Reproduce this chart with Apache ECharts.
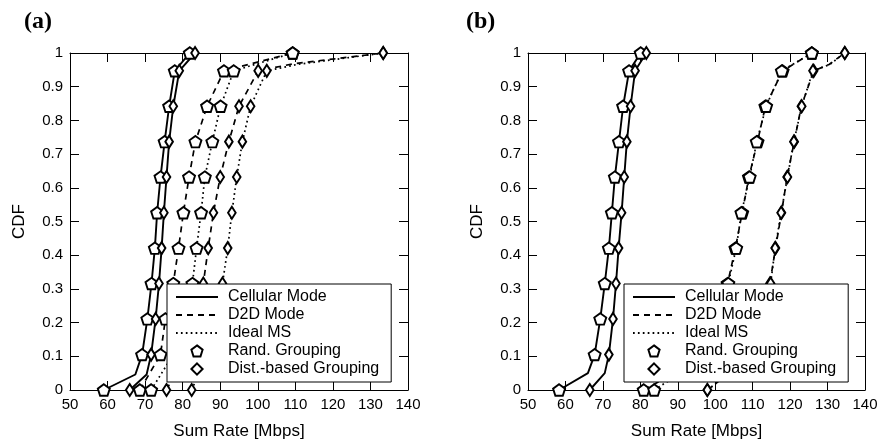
<!DOCTYPE html>
<html>
<head>
<meta charset="utf-8">
<script src="https://cdn.jsdelivr.net/npm/echarts@6/dist/echarts.min.js"></script>
<style>
  html, body { margin: 0; padding: 0; background: #fff; }
  #chart { width: 881px; height: 445px; }
</style>
</head>
<body>
<div id="chart"></div>
<script>
// CDF levels where markers are drawn
const levels = [0, 0.105, 0.211, 0.316, 0.421, 0.526, 0.632, 0.737, 0.842, 0.947, 1];
const xTicks = [50, 60, 70, 80, 90, 100, 110, 120, 130, 140];

// panel (a): sum rate at each CDF level
const aCellRand  = [59.0, 69.2, 70.6, 71.7, 72.6, 73.2, 74.1, 75.2, 76.4, 77.9, 81.9];
const aCellDist  = [65.9, 71.6, 72.8, 73.7, 74.4, 75.0, 75.7, 76.4, 77.5, 79.1, 83.3];
const aD2DRand   = [68.6, 74.1, 75.4, 77.5, 78.9, 80.2, 81.7, 83.4, 86.5, 91.0, 109.3];
const aIdealRand = [71.6, 77.5, 80.5, 82.6, 83.7, 84.9, 85.9, 87.9, 90.1, 93.6, 109.3];
const aD2DDist   = [75.7, 80.5, 83.5, 85.5, 86.8, 88.2, 90.0, 92.3, 95.0, 100.1, 133.4];
const aIdealDist = [82.4, 86.5, 89.0, 90.6, 92.0, 93.1, 94.4, 95.9, 98.1, 102.4, 133.4];

// panel (b)
const bCellRand  = [58.3, 67.8, 69.3, 70.5, 71.6, 72.4, 73.2, 74.3, 75.4, 77.0, 80.1];
const bCellDist  = [66.5, 71.6, 72.7, 73.5, 74.2, 75.0, 75.7, 76.4, 77.4, 78.6, 81.6];
const bD2DRand   = [80.9, 98.0, 101.5, 103.3, 105.4, 107.2, 109.0, 111.3, 113.4, 118.0, 125.8];
const bIdealRand = [83.7, 98.5, 101.8, 103.5, 105.6, 107.0, 109.2, 111.1, 113.6, 117.8, 125.8];
const bD2DDist   = [97.9, 110.0, 113.0, 114.6, 116.1, 117.7, 119.2, 121.1, 123.0, 126.3, 134.6];
const bIdealDist = [97.9, 110.3, 113.2, 114.8, 116.0, 117.6, 119.3, 121.0, 123.1, 126.1, 134.6];

// extra line vertices between markers (knees of the curves)
const aCellRandKnee  = [[67.4, 0.046]];
const aCellDistKnee  = [[70.4, 0.046]];
const aD2DDistKnee   = [[109.5, 0.968]];
const aIdealDistKnee = [[110.5, 0.966]];
const bCellRandKnee  = [[66.0, 0.05]];
const bCellDistKnee  = [[70.5, 0.05]];
const bD2DDistKnee   = [[130.4, 0.966]];
const bIdealDistKnee = [[130.6, 0.966]];

const PENT = 'path://M0,-10 L9.51,-3.09 L5.88,8.09 L-5.88,8.09 L-9.51,-3.09 Z';
const DIAM = 'path://M0,-11 L7,0 L0,11 L-7,0 Z';
const FONT = "'Liberation Sans', Arial, sans-serif";

const lineTypes = {
    solid: { type: 'solid', width: 1.9 },
    dashed: { type: [6, 5], width: 1.7 },
    dotted: { type: [1.7, 3.2], width: 1.7 }
};
const marks = {
    pent: { symbol: PENT, symbolSize: 12 },
    diam: { symbol: DIAM, symbolSize: 12 }
};

const curves = [
    { g: 0, x: aCellRand,  knee: aCellRandKnee,  line: 'solid',  mark: 'pent' },
    { g: 0, x: aCellDist,  knee: aCellDistKnee,  line: 'solid',  mark: 'diam' },
    { g: 0, x: aD2DRand,   knee: [],             line: 'dashed', mark: 'pent' },
    { g: 0, x: aIdealRand, knee: [],             line: 'dotted', mark: 'pent' },
    { g: 0, x: aD2DDist,   knee: aD2DDistKnee,   line: 'dashed', mark: 'diam' },
    { g: 0, x: aIdealDist, knee: aIdealDistKnee, line: 'dotted', mark: 'diam' },
    { g: 1, x: bCellRand,  knee: bCellRandKnee,  line: 'solid',  mark: 'pent' },
    { g: 1, x: bCellDist,  knee: bCellDistKnee,  line: 'solid',  mark: 'diam' },
    { g: 1, x: bD2DRand,   knee: [],             line: 'dashed', mark: 'pent' },
    { g: 1, x: bIdealRand, knee: [],             line: 'dotted', mark: 'pent' },
    { g: 1, x: bD2DDist,   knee: bD2DDistKnee,   line: 'dashed', mark: 'diam' },
    { g: 1, x: bIdealDist, knee: bIdealDistKnee, line: 'dotted', mark: 'diam' }
];

const markerStyle = { color: '#fff', borderColor: '#000', borderWidth: 1.9, opacity: 1 };

const series = [];
curves.forEach(function (c, i) {
    const pts = levels.map(function (l, k) { return [c.x[k], l]; });
    const linePts = pts.concat(c.knee).sort(function (p, q) { return p[1] - q[1]; });
    series.push({
        name: 'line' + i,
        type: 'line',
        xAxisIndex: c.g * 2,
        yAxisIndex: c.g * 2,
        data: linePts,
        symbol: 'none',
        silent: true,
        z: 2,
        lineStyle: Object.assign({ color: '#000' }, lineTypes[c.line])
    });
    series.push({
        name: 'mark' + i,
        type: 'scatter',
        xAxisIndex: c.g * 2,
        yAxisIndex: c.g * 2,
        data: pts,
        symbol: marks[c.mark].symbol,
        symbolSize: marks[c.mark].symbolSize,
        symbolKeepAspect: true,
        silent: true,
        z: 3,
        itemStyle: markerStyle
    });
});

// legend-only entries
const legendNames = ['Cellular Mode', 'D2D Mode', 'Ideal MS', 'Rand. Grouping', 'Dist.-based Grouping'];
const legendKinds = [['solid', null], ['dashed', null], ['dotted', null], [null, 'pent'], [null, 'diam']];
legendKinds.forEach(function (d, i) {
    series.push({
        name: legendNames[i],
        type: 'line',
        data: [],
        symbol: d[1] ? marks[d[1]].symbol : 'none',
        symbolKeepAspect: true,
        itemStyle: d[1] ? markerStyle : { color: '#000' },
        lineStyle: d[0] ? Object.assign({ color: '#000' }, lineTypes[d[0]]) : { width: 0, opacity: 0 }
    });
});

function xAx(grid, top) {
    return {
        type: 'value', gridIndex: grid, min: 50, max: 140, interval: 10,
        position: top ? 'top' : 'bottom',
        name: top ? '' : 'Sum Rate [Mbps]',
        nameLocation: 'middle', nameGap: 33,
        nameTextStyle: { color: '#000', fontSize: 17, fontFamily: FONT },
        axisLine: { show: true, onZero: false, lineStyle: { color: '#000', width: 1 } },
        axisTick: { show: true, inside: true, length: 9, lineStyle: { color: '#000' } },
        axisLabel: { show: !top, color: '#000', fontSize: 15, fontFamily: FONT, margin: 7,
            formatter: function (v) { return xTicks.indexOf(v) >= 0 ? String(v) : ''; } },
        splitLine: { show: false }
    };
}
function yAx(grid, right) {
    return {
        type: 'value', gridIndex: grid, min: 0, max: 1, interval: 0.1,
        position: right ? 'right' : 'left',
        name: right ? '' : 'CDF',
        nameLocation: 'middle', nameGap: 42, nameRotate: 90,
        nameTextStyle: { color: '#000', fontSize: 17, fontFamily: FONT },
        axisLine: { show: true, onZero: false, lineStyle: { color: '#000', width: 1 } },
        axisTick: { show: true, inside: true, length: 9, lineStyle: { color: '#000' } },
        axisLabel: { show: !right, color: '#000', fontSize: 15, fontFamily: FONT, margin: 7 },
        splitLine: { show: false }
    };
}

function legendAt(left) {
    return {
        data: legendNames.map(function (n, i) {
            // line-only entries: hide the centre symbol
            return legendKinds[i][1] ? { name: n } : { name: n, itemStyle: { opacity: 0 } };
        }),
        orient: 'vertical',
        left: left, top: 284,
        backgroundColor: '#fff',
        borderColor: '#000', borderWidth: 1,
        padding: [4, 12, 4, 8],
        itemWidth: 42, itemHeight: 14, itemGap: 0,
        selectedMode: false,
        textStyle: { color: '#000', fontSize: 16, fontFamily: FONT, lineHeight: 18, padding: [0, 0, 0, 5] }
    };
}

const option = {
    animation: false,
    backgroundColor: '#fff',
    title: [
        { text: '(a)', left: 19, top: 5, textStyle: { fontFamily: "'Liberation Serif', serif", fontWeight: 'bold', fontSize: 24, color: '#000' } },
        { text: '(b)', left: 461, top: 5, textStyle: { fontFamily: "'Liberation Serif', serif", fontWeight: 'bold', fontSize: 24, color: '#000' } }
    ],
    grid: [
        { left: 70, top: 53, width: 338, height: 339 },
        { left: 528, top: 53, width: 337, height: 339 }
    ],
    xAxis: [xAx(0, false), xAx(0, true), xAx(1, false), xAx(1, true)],
    yAxis: [yAx(0, false), yAx(0, true), yAx(1, false), yAx(1, true)],
    legend: [legendAt(167), legendAt(624)],
    series: series
};

const chart = echarts.init(document.getElementById('chart'));
chart.setOption(option);
</script>
</body>
</html>
